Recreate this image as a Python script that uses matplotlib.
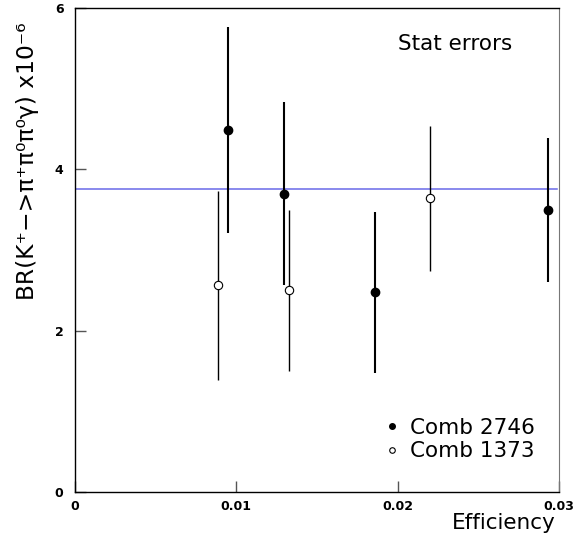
import numpy as np
import matplotlib
matplotlib.use("Agg")
import matplotlib.pyplot as plt
from matplotlib.lines import Line2D

# Comb 2746 (filled)
eff_a = [0.0095, 0.0130, 0.0186, 0.0293]
br_a = [4.49, 3.70, 2.48, 3.49]
lo_a = [3.21, 2.57, 1.48, 2.60]
hi_a = [5.77, 4.83, 3.47, 4.39]

# Comb 1373 (open)
eff_b = [0.0089, 0.0133, 0.0220]
br_b = [2.56, 2.50, 3.64]
lo_b = [1.39, 1.50, 2.74]
hi_b = [3.73, 3.49, 4.54]

mean_br = 3.76

plt.rcParams['font.family'] = 'DejaVu Sans'

fig = plt.figure(figsize=(5.82, 5.44), dpi=100)
ax = fig.add_axes([74.5/582, 1-492/544, (559-74.5)/582, 484/544])

ax.axhline(mean_br, color='#6a6ae8', lw=1.1, xmin=0, xmax=0.995, zorder=1)

ea = np.array(br_a)
ax.errorbar(eff_a, br_a, yerr=[ea-np.array(lo_a), np.array(hi_a)-ea], fmt='o',
            color='black', ms=6, elinewidth=1.5, capsize=0, zorder=3)
eb = np.array(br_b)
ax.errorbar(eff_b, br_b, yerr=[eb-np.array(lo_b), np.array(hi_b)-eb], fmt='o',
            color='black', mfc='white', mec='black', mew=0.8, ms=6, elinewidth=1.0,
            capsize=0, zorder=2)

ax.set_xlim(0, 0.03)
ax.set_ylim(0, 6)
ax.set_xticks([0, 0.01, 0.02, 0.03])
ax.set_xticklabels(['0', '0.01', '0.02', '0.03'])
ax.set_yticks([0, 2, 4, 6])
ax.set_yticklabels(['0', '2', '4', '6'])
ax.tick_params(direction='in', length=8, width=1, color='#555555', labelsize=9)
for lab in ax.get_xticklabels() + ax.get_yticklabels():
    lab.set_fontweight('bold')
ax.tick_params(axis='x', pad=6)
ax.tick_params(axis='y', pad=8)
for s in ['left', 'bottom', 'top']:
    ax.spines[s].set_color('black')
    ax.spines[s].set_linewidth(1.0)
ax.spines['right'].set_color('#777777')

ax.text(0.667, 0.925, 'Stat errors', transform=ax.transAxes, fontsize=15.5, va='center', ha='left')

handles = [Line2D([], [], ls='none', marker='o', color='black', ms=4),
           Line2D([], [], ls='none', marker='o', mfc='white', mec='black', mew=0.8, ms=4)]
ax.legend(handles, ['Comb 2746', 'Comb 1373'], loc='lower right', frameon=False,
          fontsize=15.5, handlelength=0.6, handletextpad=0.5, labelspacing=0.15,
          borderaxespad=0, bbox_to_anchor=(0.967, 0.046))

fig.text(28/582, 1-22/544, 'BR(K\u207a\u2212>\u03c0\u207a\u03c0\u2070\u03c0\u2070\u03b3) x10\u207b\u2076',
         rotation=90, ha='center', va='top', fontsize=16.8)
fig.text(556/582, 1-523/544, 'Efficiency', ha='right', va='center', fontsize=15.5)

fig.savefig('out.png', dpi=100)
